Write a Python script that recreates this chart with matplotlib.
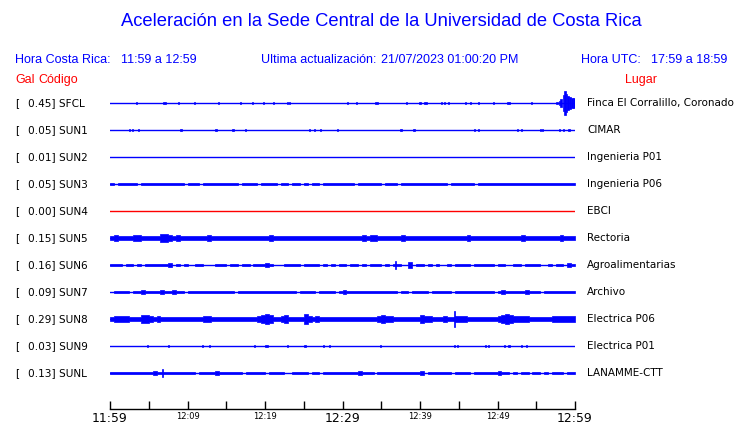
import numpy as np
import matplotlib
matplotlib.use("Agg")
import matplotlib.pyplot as plt
from matplotlib.transforms import blended_transform_factory

# ---------------- data ----------------
codes = ["SFCL", "SUN1", "SUN2", "SUN3", "SUN4", "SUN5", "SUN6", "SUN7", "SUN8", "SUN9", "SUNL"]
peaks = ["0.45", "0.05", "0.01", "0.05", "0.00", "0.15", "0.16", "0.09", "0.29", "0.03", "0.13"]
places = ["Finca El Corralillo, Coronado", "CIMAR", "Ingenieria P01", "Ingenieria P06", "EBCI",
          "Rectoria", "Agroalimentarias", "Archivo", "Electrica P06", "Electrica P01", "LANAMME-CTT"]
tick_minutes = list(range(0, 61, 5))
tick_labels = ["11:59", "", "12:09", "", "12:19", "", "12:29", "", "12:39", "", "12:49", "", "12:59"]
big_ticks = ["11:59", "12:29", "12:59"]

BIN_MIN = 0.5  # envelope bins of half a minute (120 bins)

# envelopes: peak amplitude per half-minute, hundredths of Gal
env_sun3 = [5,1,5,5,5,5,5,1,5,5, 5,5,5,5,5,5,5,5,5,1, 5,4,5,1,5,5,4,5,4,5,
            5,5,5,1,5,5,4,5,1,4, 5,5,5,1,5,4,1,5,5,1, 5,1,4,4,1,5,5,4,5,4,
            5,5,5,1,4,5,5,5,4,4, 1,5,5,4,1,4,5,5,5,4, 5,5,5,4,5,5,5,1,5,5,
            5,5,5,5,1,5,5,5,5,5, 4,5,5,5,5,5,4,5,5,5, 5,4,5,5,4,5,5,5,4,5]
env_sun5 = [8,10,8,9,8,9,11,11,9,8, 9,8,9,14,15,11,9,10,9,8, 9,8,8,9,8,11,8,8,8,7,
            8,7,9,9,7,8,8,7,8,7, 9,10,8,8,7,8,8,9,7,6, 7,6,8,6,7,6,7,8,9,8,
            9,8,8,7,8,10,8,10,10,8, 8,7,8,8,8,10,8,8,8,8, 7,9,8,7,8,7,7,7,8,8,
            7,7,10,9,7,7,7,7,6,7, 7,7,6,9,9,9,11,9,8,7, 8,7,7,7,7,7,10,9,9,8]
env_sun6 = [2,2,2,1,5,5,1,5,1,5, 5,5,5,5,5,6,1,5,1,2, 1,1,5,5,1,1,1,5,5,5,
            1,4,4,1,4,4,1,5,5,5, 6,5,1,1,1,4,5,5,5,1, 4,4,4,5,1,4,1,5,1,4,
            2,1,4,4,1,5,1,4,5,5, 1,4,1,5,5,1,1,10,1,5, 5,1,5,1,5,1,1,2,1,5,
            4,5,5,1,5,5,4,5,5,1, 5,5,1,1,5,5,1,5,5,5, 5,1,1,5,1,5,4,1,6,4]
env_sun7 = [1,5,5,5,5,1,5,5,6,5, 5,5,5,6,4,5,8,5,5,1, 4,5,5,5,5,5,5,4,4,5,
            5,5,1,5,4,5,5,5,5,5, 4,5,5,5,5,5,4,5,1,5, 4,5,5,1,5,5,5,5,1,5,
            6,5,4,5,4,5,5,4,5,5, 5,4,5,5,1,5,4,1,5,5, 5,5,1,5,5,5,5,5,1,5,
            5,4,5,5,5,5,5,5,5,1, 5,6,4,5,5,5,4,6,5,4, 5,1,5,5,4,5,5,5,5,5]
env_sun8 = [8,10,11,10,12,8,8,9,14,15, 10,9,11,8,8,9,8,8,8,8, 8,7,8,8,10,12,8,8,9,8,
            8,7,8,7,8,8,7,8,10,14, 20,13,8,8,10,14,9,8,7,8, 18,10,9,10,8,9,8,7,8,8,
            7,7,7,7,8,8,8,8,8,11, 13,12,10,7,7,7,7,8,7,8, 13,12,11,7,7,7,10,9,8,11,
            11,10,9,8,7,7,8,9,8,8, 10,13,18,15,10,11,12,11,8,7, 7,7,8,8,11,10,10,11,10,11]
env_sunl = [5,5,4,5,5,4,4,5,5,5, 5,6,5,5,4,5,4,5,5,5, 4,4,1,5,5,5,5,6,5,5,
            5,5,5,5,1,4,5,5,5,4, 1,5,5,5,5,1,1,4,5,5, 4,1,5,5,1,5,5,5,4,4,
            4,5,5,5,6,5,5,5,1,5, 5,5,5,4,5,5,5,5,4,5, 6,1,5,5,5,5,5,5,1,5,
            5,4,5,1,5,4,5,5,5,5, 6,5,5,1,5,1,5,4,1,5, 4,1,5,1,4,5,5,1,5,5]

# isolated spikes / bursts: (minute, peak amplitude in Gal, duration in minutes)
ev_sfcl = [(3.4, 0.02, 0.13), (7.0, 0.05, 0.35), (8.8, 0.02, 0.13), (10.9, 0.03, 0.13),
           (14.0, 0.05, 0.13), (16.9, 0.05, 0.13), (18.4, 0.04, 0.2), (19.8, 0.05, 0.13),
           (21.1, 0.05, 0.13), (22.9, 0.04, 0.13), (23.1, 0.04, 0.13), (30.6, 0.05, 0.13),
           (31.8, 0.04, 0.13), (34.4, 0.04, 0.45), (38.3, 0.03, 0.13), (40.0, 0.05, 0.13),
           (40.7, 0.04, 0.35), (42.8, 0.04, 0.13), (43.2, 0.02, 0.13), (43.7, 0.04, 0.13),
           (45.9, 0.04, 0.13), (46.5, 0.03, 0.13), (47.5, 0.02, 0.13), (49.5, 0.02, 0.13),
           (51.4, 0.04, 0.45), (54.4, 0.02, 0.13), (57.7, 0.03, 0.25), (58.0, 0.07, 0.25),
           (58.25, 0.15, 0.25), (58.5, 0.30, 0.2), (58.7, 0.45, 0.15), (58.9, 0.33, 0.2),
           (59.15, 0.26, 0.25), (59.4, 0.22, 0.25), (59.65, 0.20, 0.25), (59.88, 0.18, 0.2)]
ev_sun1 = [(2.5, 0.05, 0.13), (2.9, 0.05, 0.13), (3.65, 0.02, 0.13), (9.2, 0.05, 0.25),
           (13.7, 0.05, 0.25), (15.9, 0.05, 0.3), (17.5, 0.02, 0.13), (25.8, 0.05, 0.13),
           (26.4, 0.05, 0.13), (27.1, 0.05, 0.13), (29.3, 0.02, 0.13), (37.6, 0.05, 0.25),
           (39.2, 0.05, 0.25), (47.0, 0.04, 0.13), (47.5, 0.02, 0.13), (52.6, 0.04, 0.13),
           (53.1, 0.04, 0.13), (55.5, 0.05, 0.13), (55.8, 0.05, 0.13), (58.0, 0.02, 0.13),
           (58.5, 0.02, 0.13), (59.2, 0.04, 0.25)]
ev_sun6 = [(36.8, 0.16, 0.12)]
ev_sun8 = [(44.5, 0.29, 0.12)]
ev_sun9 = [(4.8, 0.02, 0.13), (7.5, 0.02, 0.13), (11.9, 0.03, 0.13), (12.8, 0.02, 0.13),
           (18.6, 0.02, 0.13), (20.2, 0.03, 0.4), (22.9, 0.02, 0.13), (25.2, 0.03, 0.25),
           (27.6, 0.02, 0.13), (28.3, 0.02, 0.13), (34.9, 0.03, 0.13), (44.5, 0.03, 0.13),
           (44.9, 0.02, 0.13), (48.5, 0.02, 0.13), (48.9, 0.02, 0.13), (50.9, 0.02, 0.13),
           (51.5, 0.03, 0.3), (53.1, 0.02, 0.13), (53.7, 0.02, 0.13)]
ev_sunl = [(6.75, 0.13, 0.12)]

envelopes = [None, None, None, env_sun3, None, env_sun5, env_sun6, env_sun7, env_sun8, None, env_sunl]
events = [ev_sfcl, ev_sun1, [], [], [], [], ev_sun6, [], ev_sun8, ev_sun9, ev_sunl]

# ---------------- figure ----------------
W, H = 740, 423
BLUE = "#0000ff"
RED = "#ff0000"
fig = plt.figure(figsize=(W / 100, H / 100), dpi=100)
fig.patch.set_facecolor("white")

def fx(px):
    return px / W

def fy(py):
    return 1 - py / H

# traces axes: x in minutes, y in rows (1 row == 1 Gal of amplitude)
row0_px, row_step_px = 103, 27
ax_top_px, ax_bot_px = 90, 408.5
ax = fig.add_axes([fx(110), fy(ax_bot_px), (575 - 110) / W, (ax_bot_px - ax_top_px) / H])
ax.set_xlim(0, 60)
ax.set_ylim((ax_bot_px - row0_px) / row_step_px, (ax_top_px - row0_px) / row_step_px)
for s in ["left", "right", "top"]:
    ax.spines[s].set_visible(False)
ax.spines["bottom"].set_color("black")
ax.spines["bottom"].set_linewidth(1.0)
ax.set_yticks([])
ax.set_xticks(tick_minutes)
ax.set_xticklabels(tick_labels, family="DejaVu Sans")
ax.tick_params(axis="x", direction="in", length=6, width=1.0, pad=2.5, color="black")
for lab in ax.get_xticklabels():
    if lab.get_text() in big_ticks:
        lab.set_fontsize(8.9)
    else:
        lab.set_fontsize(6.0)

for i, code in enumerate(codes):
    color = RED if peaks[i] == "0.00" else BLUE
    ax.axhline(i, color=color, lw=1.0, zorder=2)
    env = envelopes[i]
    if env is not None:
        a = np.array(env, dtype=float) / 100.0
        edges = np.arange(len(a) + 1) * BIN_MIN
        vals = np.append(a, a[-1])
        ax.fill_between(edges, i - vals, i + vals, step="post", facecolor=color,
                        edgecolor=color, lw=0.5, zorder=3)
    for t, amp, w in events[i]:
        ax.bar(t, 2 * amp, width=w, bottom=i - amp, facecolor=color, edgecolor=color,
               lw=0.5, zorder=3)

# row labels (figure x, data y)
tr = blended_transform_factory(fig.transFigure, ax.transData)
for i, code in enumerate(codes):
    ax.text(fx(15), i, "[", transform=tr, ha="left", va="center", fontsize=7.6,
            family="DejaVu Sans", color="black", clip_on=False)
    ax.text(fx(27.5), i, f"{peaks[i]}] {code}", transform=tr, ha="left", va="center",
            fontsize=7.6, family="DejaVu Sans", color="black", clip_on=False)
    ax.text(fx(587), i, places[i], transform=tr, ha="left", va="center", fontsize=7.5,
            family="DejaVu Sans", color="black", clip_on=False)

# header texts
hf = "Liberation Sans"
fig.text(fx(381), fy(22), "Aceleración en la Sede Central de la Universidad de Costa Rica",
         ha="center", va="center", fontsize=13.2, family=hf, color=BLUE)
fig.text(fx(15), fy(60), "Hora Costa Rica:", ha="left", va="center", fontsize=9, family=hf, color=BLUE)
fig.text(fx(121), fy(60), "11:59 a 12:59", ha="left", va="center", fontsize=9, family=hf, color=BLUE)
fig.text(fx(261), fy(60), "Ultima actualización:", ha="left", va="center", fontsize=9, family=hf, color=BLUE)
fig.text(fx(381), fy(60), "21/07/2023 01:00:20 PM", ha="left", va="center", fontsize=9, family=hf, color=BLUE)
fig.text(fx(581), fy(60), "Hora UTC:", ha="left", va="center", fontsize=9, family=hf, color=BLUE)
fig.text(fx(651), fy(60), "17:59 a 18:59", ha="left", va="center", fontsize=9, family=hf, color=BLUE)
fig.text(fx(15), fy(80), "Gal", ha="left", va="center", fontsize=9, family=hf, color=RED)
fig.text(fx(38), fy(80), "Código", ha="left", va="center", fontsize=9, family=hf, color=RED)
fig.text(fx(625), fy(80), "Lugar", ha="left", va="center", fontsize=9, family=hf, color=RED)

fig.savefig("out.png", dpi=100, facecolor="white")
